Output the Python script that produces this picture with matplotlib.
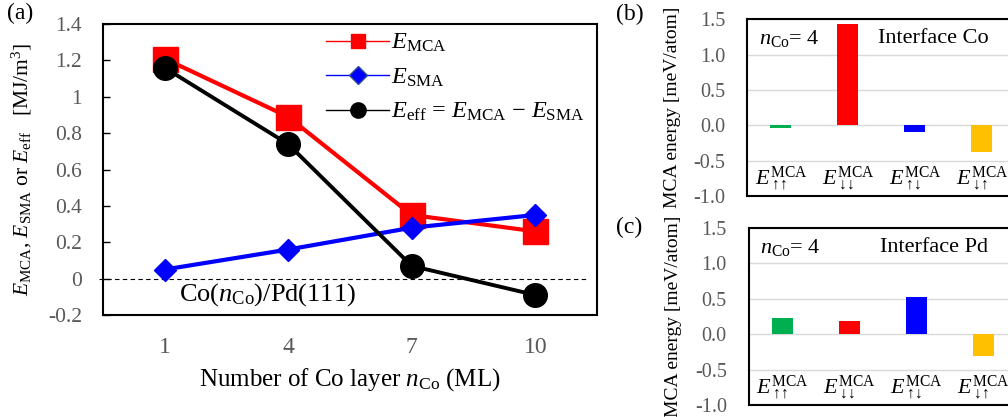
"""Co(nCo)/Pd(111) anisotropy energies and MCA decomposition at nCo = 4."""

import matplotlib
matplotlib.use("Agg")
import matplotlib.pyplot as plt
from matplotlib.lines import Line2D
import numpy as np

# ---- data -------------------------------------------------------------
n_co = ["1", "4", "7", "10"]
e_mca = [1.21, 0.89, 0.35, 0.26]
e_sma = [0.05, 0.16, 0.28, 0.35]
e_eff = [1.16, 0.74, 0.07, -0.09]

spin_labels = [r"$E^{\mathrm{MCA}}_{\uparrow\!\!\uparrow}$",
               r"$E^{\mathrm{MCA}}_{\downarrow\!\!\downarrow}$",
               r"$E^{\mathrm{MCA}}_{\uparrow\!\!\downarrow}$",
               r"$E^{\mathrm{MCA}}_{\downarrow\!\!\uparrow}$"]
mca_co = [-0.04, 1.44, -0.10, -0.37]
mca_pd = [0.23, 0.19, 0.53, -0.31]

a_yticks = [-0.2, 0, 0.2, 0.4, 0.6, 0.8, 1, 1.2, 1.4]
a_yticklabels = ["-0.2", "0", "0.2", "0.4", "0.6", "0.8", "1", "1.2", "1.4"]
bc_yticks = [-1.0, -0.5, 0.0, 0.5, 1.0, 1.5]

# ---- style ------------------------------------------------------------
plt.rcParams["font.family"] = ["Liberation Serif", "DejaVu Serif"]
plt.rcParams["mathtext.fontset"] = "custom"
plt.rcParams["mathtext.rm"] = "Liberation Serif"
plt.rcParams["mathtext.it"] = "Liberation Serif:italic"
plt.rcParams["mathtext.bf"] = "Liberation Serif:bold"

clr_red, clr_blue, clr_black = "#FF0000", "#0000FF", "#000000"
bar_colors = ["#00B050", "#FF0000", "#0000FF", "#FFC000"]
tick_grey = "#595959"

fig = plt.figure(figsize=(10.08, 4.17), dpi=100)

# ---- (a) --------------------------------------------------------------
ax = fig.add_axes([0.1019, 0.2446, 0.4904, 0.6978])
x = np.arange(len(n_co))
ax.plot(x, e_mca, color=clr_red, lw=3, marker="s", ms=18, zorder=3)
ax.plot(x, e_sma, color=clr_blue, lw=3, marker="D", ms=11, zorder=4)
ax.plot(x, e_eff, color=clr_black, lw=2.8, marker="o", ms=17, zorder=5)
ax.axhline(0, xmin=-0.008, xmax=0.98, color="black", lw=0.8,
           ls=(0, (4, 3)), clip_on=False, zorder=1)

ax.set_xlim(-0.5, 3.5)
ax.set_ylim(-0.2, 1.4)
ax.set_xticks(x)
ax.set_xticklabels(n_co)
ax.set_yticks(a_yticks)
ax.set_yticklabels(a_yticklabels)
ax.tick_params(axis="x", length=0, pad=16, labelsize=17,
               labelcolor=tick_grey)
ax.tick_params(axis="y", direction="in", length=5, width=1, pad=15,
               labelsize=15.5, labelcolor=tick_grey)
for sp in ax.spines.values():
    sp.set_linewidth(1.5)

ax.set_xlabel(r"Number of Co layer $n_{\mathrm{Co}}$ (ML)", fontsize=18,
              labelpad=6)
ax.set_ylabel(r"$E_{\mathrm{MCA}}$, $E_{\mathrm{SMA}}$ or $E_{\mathrm{eff}}$"
              r"   [MJ/m$^3$]", fontsize=15.5, labelpad=10)
ax.text(0.117, -0.09, r"Co($n_{\mathrm{Co}}$)/Pd(111)", fontsize=19,
        ha="left", va="center")

handles = [
    Line2D([], [], color=clr_red, lw=1, marker="s", ms=9.5),
    Line2D([], [], color=clr_blue, lw=1, marker="D", ms=9,
           markeredgecolor="#2F4F8F", markeredgewidth=1),
    Line2D([], [], color=clr_black, lw=1, marker="o", ms=11),
]
labels = [r"$E_{\mathrm{MCA}}$", r"$E_{\mathrm{SMA}}$",
          r"$E_{\mathrm{eff}}$ = $E_{\mathrm{MCA}}$ $-$ $E_{\mathrm{SMA}}$"]
ax.legend(handles, labels, loc="upper left", bbox_to_anchor=(0.452, 0.972),
          frameon=False, fontsize=17.5, handlelength=2.6, handletextpad=0.05,
          labelspacing=0.5, borderpad=0, borderaxespad=0)

fig.text(0.007, 0.968, "(a)", fontsize=17, ha="left", va="center")


# ---- (b), (c) ---------------------------------------------------------
def draw_bars(rect, values, site, tag, tag_y):
    axb = fig.add_axes(rect)
    xb = np.arange(len(values))
    axb.bar(xb, values, width=0.31, color=bar_colors, zorder=3)
    axb.set_xlim(-0.5, 3.5)
    axb.set_ylim(-1.0, 1.5)
    axb.set_yticks(bc_yticks)
    axb.set_yticklabels([f"{v:.1f}" for v in bc_yticks])
    axb.set_xticks([])
    axb.yaxis.grid(True, color="#D9D9D9", lw=1, zorder=0)
    axb.tick_params(axis="y", length=0, pad=16, labelsize=14.5,
                    labelcolor=tick_grey)
    for sp in axb.spines.values():
        sp.set_linewidth(1.5)
        sp.set_zorder(4)
    axb.set_ylabel("MCA energy [meV/atom]", fontsize=14, labelpad=9)
    for xi, lbl in zip(xb, spin_labels):
        axb.text(xi, -0.75, lbl, fontsize=16, ha="center", va="center",
                 zorder=5)
    axb.text(-0.33, 1.23, r"$n_{\mathrm{Co}}$= 4", fontsize=16,
             ha="left", va="center", zorder=5)
    axb.text(1.45, 1.23, site, fontsize=16, ha="left", va="center",
             zorder=5)
    fig.text(0.611, tag_y, tag, fontsize=17, ha="left", va="center")
    return axb


draw_bars([0.7414, 0.530, 0.2659, 0.4233], mca_co, "Interface Co",
          "(b)", 0.965)
draw_bars([0.7431, 0.0288, 0.2659, 0.4245], mca_pd, "Interface Pd",
          "(c)", 0.455)

fig.savefig("out.png", dpi=100)
